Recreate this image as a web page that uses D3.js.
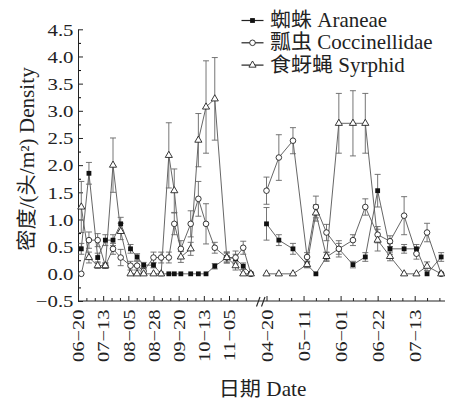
<!DOCTYPE html>
<html lang="en">
<head>
<meta charset="UTF-8">
<title>密度 Density</title>
<script src="https://d3js.org/d3.v7.min.js"></script>
<style>
  body { margin: 0; background: #fff; }
  svg { display: block; }
  text { font-family: "Liberation Serif", Tinos, "Times New Roman", Times, serif, "Noto Sans CJK SC"; fill: #222; }
</style>
</head>
<body>
<svg id="chart" width="454" height="402"></svg>
<script>
// sampling dates, first season and second season (MM-DD)
const dates1 = ["06-23","06-30","07-08","07-15","07-22","07-29","08-07","08-13","08-19","08-28","09-04",
                "09-11","09-16","09-22","10-01","10-08","10-15","10-23","11-03","11-11","11-18","11-25"];
const dates2 = ["04-20","04-27","05-05","05-13","05-18","05-24","05-31","06-08","06-15","06-22","06-29",
                "07-07","07-14","07-20","07-28"];

const seriesNames = ["蜘蛛 Araneae", "瓢虫 Coccinellidae", "食蚜蝇 Syrphid"];

// density (ind./m2) and error bars
const araneae1    = [0.46, 1.85, 0.30, 0.62, 0.62, 0.92, 0.46, 0.31, 0.16, 0.16, 0, 0, 0, 0, 0, 0, 0, 0.14, 0.30, 0.28, 0.14, 0];
const araneaeErr1 = [0.10, 0.20, 0.08, 0.10, 0.10, 0.12, 0.08, 0.06, 0.05, 0.05, 0, 0, 0, 0, 0, 0, 0, 0.05, 0.08, 0.08, 0.06, 0];
const cocc1       = [0, 0.62, 0.62, 0.15, 0.46, 0.30, 0.15, 0.15, 0.05, 0.30, 0.30, 0.30, 0.92, 0.46, 0.92, 1.38, 0.92, 0.48, 0.30, 0.30, 0.48, 0];
const coccErr1    = [0, 0.15, 0.12, 0.05, 0.10, 0.15, 0.08, 0.08, 0.05, 0.10, 0.10, 0.10, 0.20, 0.15, 0.24, 0.32, 0.37, 0.10, 0.10, 0.12, 0.12, 0];
const syr1        = [1.23, 0.30, 0.15, 0.15, 2.00, 0.78, 0, 0, 0, 0, 0, 2.18, 1.53, 0.31, 0.46, 2.46, 3.07, 3.22, 0.30, 0.15, 0, 0];
const syrErr1     = [0.47, 0.10, 0.05, 0.05, 0.50, 0.15, 0, 0, 0, 0, 0, 0.60, 0.40, 0.10, 0.12, 0.49, 0.85, 0.76, 0.10, 0.08, 0, 0];

const araneae2    = [0.92, 0.62, 0.46, 0.17, 0, 0.31, 0.46, 0.17, 0.31, 1.53, 0.46, 0.46, 0.46, 0, 0.31];
const araneaeErr2 = [0.30, 0.10, 0.10, 0.06, 0, 0.08, 0.10, 0.06, 0.08, 0.30, 0.10, 0.08, 0.08, 0, 0.08];
const cocc2       = [1.53, 2.14, 2.45, 0.31, 1.23, 0.76, 0.46, 0.62, 1.23, 0.72, 0.60, 1.07, 0.37, 0.76, 0];
const coccErr2    = [0.25, 0.42, 0.24, 0.08, 0.20, 0.15, 0.15, 0.10, 0.15, 0.15, 0.10, 0.35, 0.10, 0.17, 0];
const syr2        = [0, 0, 0, 0.17, 1.12, 0.32, 2.77, 2.77, 2.77, 0.62, 0.32, 0, 0, 0.14, 0];
const syrErr2     = [0, 0, 0, 0.05, 0.15, 0.08, 0.55, 0.60, 0.55, 0.20, 0.08, 0, 0, 0.08, 0];

const yTicks = [-0.5, 0, 0.5, 1, 1.5, 2, 2.5, 3, 3.5, 4, 4.5];
const xLabels1 = ["06-20","07-13","08-05","08-28","09-20","10-13","11-05"];
const xLabels2 = ["04-20","05-11","06-01","06-22","07-13"];

const parse = d3.timeParse("%Y-%m-%d");
const d1 = s => parse("2001-" + s);
const d2 = s => parse("2002-" + s);
const DAY = 864e5;

const svg = d3.select("#chart");

const x1 = d3.scaleTime().domain([d1("06-20"), d1("11-05")]).range([78, 229]);
const x2 = d3.scaleTime().domain([d2("04-20"), d2("07-13")]).range([266.5, 414.7]);
const y = d3.scaleLinear().domain([-0.5, 4.5]).range([301, 29.3]);

// ---- axes ----
const yMinor = d3.range(-0.25, 4.5, 0.5);
svg.append("g").attr("transform", "translate(78,0)")
    .call(d3.axisLeft(y).tickValues(yMinor).tickSize(-3).tickSizeOuter(0).tickFormat(""))
    .call(g => g.select(".domain").remove());
const gy = svg.append("g").attr("transform", "translate(78,0)")
    .call(d3.axisLeft(y).tickValues(yTicks).tickSize(-5).tickSizeOuter(0).tickFormat(d3.format(".1f")))
    .attr("font-family", null);
gy.select(".domain").attr("stroke", "#222");
gy.selectAll("line").attr("stroke", "#222");
gy.selectAll("text").attr("font-size", 16).attr("x", 0).attr("dy", "0.36em")
    .attr("transform", "translate(-4.5,0) scale(1.3,1)");

const minor1 = [];
xLabels1.forEach(s => {
    [1, 2].forEach(j => {
        const m = new Date(+d1(s) + j * 23 / 3 * DAY);
        if (x1(m) < 250) minor1.push(m);
    });
});
const minor2 = d3.range(15).filter(k => k % 3 !== 0).map(k => new Date(+d2("04-20") + 7 * k * DAY));

function xAxis(scale, majors, minors) {
    svg.append("g").attr("transform", "translate(0,301)")
        .call(d3.axisBottom(scale).tickValues(minors).tickSize(-3).tickSizeOuter(0).tickFormat(""))
        .call(g => g.select(".domain").remove())
        .selectAll("line").attr("stroke", "#222");
    const g = svg.append("g").attr("transform", "translate(0,301)")
        .call(d3.axisBottom(scale).tickValues(majors).tickSize(-5).tickSizeOuter(0)
            .tickFormat(d3.timeFormat("%m\u2212%d")))
        .attr("font-family", null);
    g.select(".domain").remove();
    g.selectAll("line").attr("stroke", "#222");
    g.selectAll("text")
        .attr("font-size", 16)
        .attr("transform", "rotate(-90) translate(-8.5,0) scale(1.28,1)")
        .attr("x", 0).attr("y", 0).attr("dy", "0.36em")
        .attr("text-anchor", "end");
}
xAxis(x1, xLabels1.map(d1), minor1);
xAxis(x2, xLabels2.map(d2), minor2);

svg.append("line").attr("x1", 78).attr("x2", 445).attr("y1", 301).attr("y2", 301)
    .attr("stroke", "#222").attr("stroke-width", 1);
// axis break
[0, 5].forEach(o => {
    svg.append("line").attr("x1", 256.5 + o).attr("y1", 306.5).attr("x2", 260 + o).attr("y2", 297)
        .attr("stroke", "#222").attr("stroke-width", 1.1);
});

// ---- titles ----
svg.append("text").attr("transform", "translate(27,159) rotate(-90) scale(1.06,1)")
    .attr("text-anchor", "middle").attr("dy", "0.35em").attr("font-size", 20)
    .text("密度/(头/m²) Density");
svg.append("text").attr("transform", "translate(262.5,396) scale(1.06,1)")
    .attr("text-anchor", "middle").attr("font-size", 20).text("日期 Date");

// ---- data ----
const shapes = ["square", "circle", "triangle"];
const series = [
    {v1: araneae1, e1: araneaeErr1, v2: araneae2, e2: araneaeErr2},
    {v1: cocc1, e1: coccErr1, v2: cocc2, e2: coccErr2},
    {v1: syr1, e1: syrErr1, v2: syr2, e2: syrErr2}
].map((s, i) => ({
    shape: shapes[i],
    segs: [
        dates1.map((d, j) => ({x: x1(d1(d)), v: s.v1[j], e: s.e1[j]})),
        dates2.map((d, j) => ({x: x2(d2(d)), v: s.v2[j], e: s.e2[j]}))
    ]
}));

const line = d3.line().x(d => d.x).y(d => y(d.v));

series.forEach(s => s.segs.forEach(seg => {
    svg.append("path").datum(seg).attr("d", line)
        .attr("fill", "none").attr("stroke", "#555").attr("stroke-width", 0.9);
}));

series.forEach(s => s.segs.forEach(seg => {
    seg.filter(d => d.e > 0).forEach(d => {
        const g = svg.append("g").attr("stroke", "#666").attr("stroke-width", 0.9);
        g.append("line").attr("x1", d.x).attr("x2", d.x).attr("y1", y(d.v - d.e)).attr("y2", y(d.v + d.e));
        [d.v - d.e, d.v + d.e].forEach(c => g.append("line")
            .attr("x1", d.x - 3).attr("x2", d.x + 3).attr("y1", y(c)).attr("y2", y(c)));
    });
}));

function marker(g, shape, cx, cy) {
    if (shape === "square") {
        g.append("rect").attr("x", cx - 2.4).attr("y", cy - 2.4).attr("width", 4.8).attr("height", 4.8)
            .attr("fill", "#111");
    } else if (shape === "circle") {
        g.append("circle").attr("cx", cx).attr("cy", cy).attr("r", 2.8)
            .attr("fill", "#fff").attr("stroke", "#222").attr("stroke-width", 0.9);
    } else {
        g.append("path").attr("d", d3.symbol(d3.symbolTriangle, 22)())
            .attr("transform", `translate(${cx},${cy})`)
            .attr("fill", "#fff").attr("stroke", "#222").attr("stroke-width", 0.9);
    }
}

const gm = svg.append("g");
series.forEach(s => s.segs.forEach(seg => seg.forEach(d => marker(gm, s.shape, d.x, y(d.v)))));

// ---- legend ----
const lg = svg.append("g");
seriesNames.forEach((name, i) => {
    const ly = 20.5 + i * 22.3;
    lg.append("line").attr("x1", 241.5).attr("x2", 263.5).attr("y1", ly).attr("y2", ly)
        .attr("stroke", "#222").attr("stroke-width", 1.2);
    marker(lg, shapes[i], 252.5, ly);
    lg.append("text").attr("transform", `translate(270,${ly + 6.5}) scale(1.05,1)`)
        .attr("font-size", 20).text(name);
});
</script>
</body>
</html>
